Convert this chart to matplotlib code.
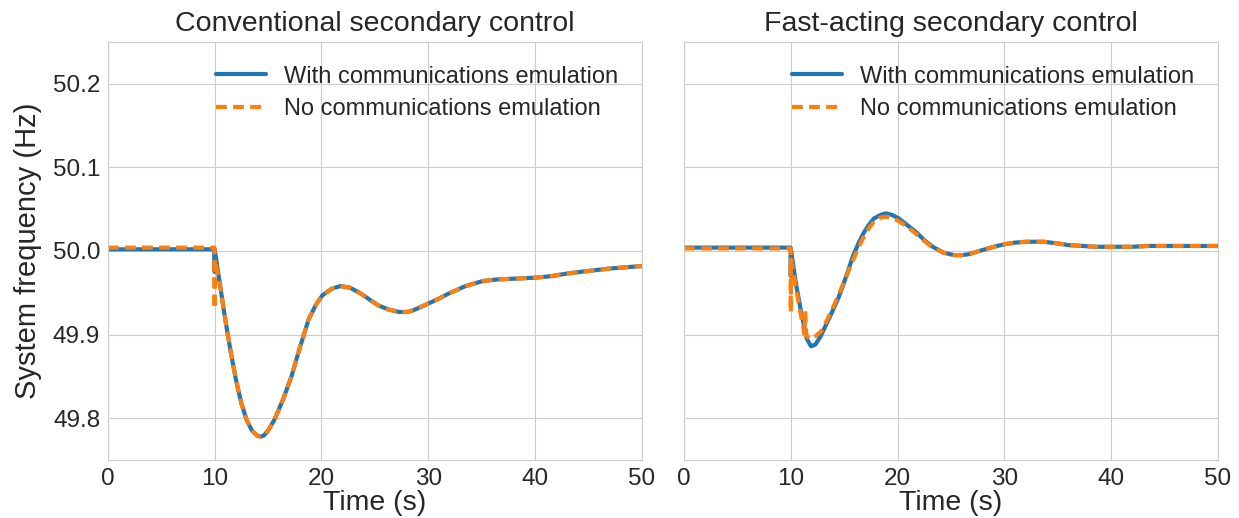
import matplotlib
matplotlib.use('Agg')
import matplotlib.pyplot as plt
import seaborn as sns

# data (time in s, frequency in Hz)
t_conv_with = [0, 9.99, 10.0, 10.03, 10.5, 11, 11.5, 12, 12.5, 13, 13.5, 14, 14.3, 14.6, 15,
               15.6, 16.4, 17.2, 18, 18.8, 19.5, 20.1, 21, 21.8, 22.7, 23.7, 24.5, 25.3, 26.3,
               27.3, 28, 28.6, 30, 31, 31.9, 33.5, 35.1, 36.5, 38.3, 40, 41.6, 43, 44.9, 47, 50]
f_conv_with = [50.002, 50.002, 49.975, 50.0, 49.96, 49.918, 49.88, 49.846, 49.818, 49.798, 49.785,
               49.779, 49.778, 49.779, 49.785, 49.798, 49.822, 49.850, 49.885, 49.918, 49.936,
               49.947, 49.955, 49.958, 49.956, 49.949, 49.942, 49.935, 49.930, 49.927, 49.927,
               49.929, 49.937, 49.943, 49.949, 49.958, 49.964, 49.966, 49.967, 49.968, 49.970,
               49.973, 49.976, 49.979, 49.982]

t_conv_no = [0, 9.99, 10.0, 10.03, 10.5, 11, 11.5, 12, 12.5, 13, 13.5, 14, 14.3, 14.6, 15,
             15.6, 16.4, 17.2, 18, 18.8, 19.5, 20.1, 21, 21.8, 22.7, 23.7, 24.5, 25.3, 26.3,
             27.3, 28, 28.6, 30, 31, 31.9, 33.5, 35.1, 36.5, 38.3, 40, 41.6, 43, 44.9, 47, 50]
f_conv_no = [50.004, 50.004, 49.931, 49.99, 49.96, 49.918, 49.88, 49.846, 49.818, 49.798, 49.785,
             49.779, 49.778, 49.779, 49.785, 49.798, 49.822, 49.850, 49.885, 49.918, 49.936,
             49.947, 49.955, 49.958, 49.956, 49.949, 49.942, 49.935, 49.930, 49.927, 49.927,
             49.929, 49.937, 49.943, 49.949, 49.958, 49.964, 49.966, 49.967, 49.968, 49.970,
             49.973, 49.976, 49.979, 49.982]

t_fast_with = [0, 9.99, 10.0, 10.03, 10.5, 11, 11.5, 11.9, 12.3, 12.8, 13.2, 13.8, 14.5, 15.2,
               15.8, 16.3, 16.8, 17.3, 17.8, 18.4, 18.9, 19.5, 20.1, 20.9, 21.7, 22.5, 23.3,
               24.3, 25.3, 26, 26.6, 27.4, 28.2, 29, 30, 31, 32.1, 33.7, 35, 36, 37.3, 38.6,
               40.3, 42, 43.5, 46, 50]
f_fast_with = [50.004, 50.004, 49.97, 50.0, 49.96, 49.925, 49.895, 49.886, 49.888, 49.898, 49.909,
               49.925, 49.945, 49.970, 49.993, 50.008, 50.021, 50.031, 50.039, 50.043, 50.045,
               50.043, 50.039, 50.031, 50.023, 50.013, 50.005, 49.998, 49.995, 49.995, 49.996,
               49.999, 50.002, 50.005, 50.008, 50.010, 50.011, 50.011, 50.009, 50.007, 50.006,
               50.005, 50.005, 50.005, 50.006, 50.006, 50.006]

t_fast_no = [0, 9.99, 10.0, 10.03, 10.5, 11, 11.3, 11.35, 11.45, 11.7, 12.2, 12.8, 13.2, 13.8,
             14.5, 15.2, 15.8, 16.3, 16.8, 17.3, 17.8, 18.4, 19.0, 19.6, 20.2, 20.9, 21.7,
             22.5, 23.3, 24.3, 25.3, 26, 26.6, 27.4, 28.2, 29, 30, 31, 32.1, 33.7, 35, 36,
             37.3, 38.6, 40.3, 42, 43.5, 46, 50]
f_fast_no = [50.003, 50.003, 49.927, 49.99, 49.955, 49.92, 49.90, 49.929, 49.90, 49.895, 49.897,
             49.903, 49.912, 49.928, 49.948, 49.970, 49.988, 50.003, 50.016, 50.027, 50.035,
             50.040, 50.041, 50.039, 50.035, 50.029, 50.021, 50.012, 50.004, 49.998, 49.995,
             49.995, 49.996, 49.999, 50.002, 50.005, 50.008, 50.010, 50.011, 50.011, 50.009,
             50.007, 50.006, 50.005, 50.005, 50.005, 50.006, 50.006, 50.006]

titles = ['Conventional secondary control', 'Fast-acting secondary control']
labels = ['With communications emulation', 'No communications emulation']
yticks = [49.8, 49.9, 50.0, 50.1, 50.2]
xticks = [0, 10, 20, 30, 40, 50]

sns.set_style('whitegrid')
plt.rcParams['font.family'] = ['Liberation Sans', 'DejaVu Sans']

fig, axes = plt.subplots(1, 2, figsize=(12.39, 5.18), dpi=100, sharey=True)
fig.subplots_adjust(left=0.087, right=0.983, top=0.919, bottom=0.112, wspace=0.079)

series = [(t_conv_with, f_conv_with, t_conv_no, f_conv_no),
          (t_fast_with, f_fast_with, t_fast_no, f_fast_no)]

for ax, title, (tw, fw, tn, fn) in zip(axes, titles, series):
    ax.plot(tw, fw, color='#1f77b4', lw=3, label=labels[0])
    ax.plot(tn, fn, color='#ff7f0e', lw=3, ls=(0, (2.6, 1.5)), label=labels[1])
    ax.set_title(title, fontsize=20.5, pad=8)
    ax.set_xlim(0, 50)
    ax.set_ylim(49.75, 50.25)
    ax.set_xticks(xticks)
    ax.set_yticks(yticks)
    ax.set_yticklabels(['%.1f' % v for v in yticks])
    ax.tick_params(labelsize=17.5, pad=2)
    ax.set_xlabel('Time (s)', fontsize=20.5, labelpad=0)
    ax.legend(loc='upper right', fontsize=17, frameon=False, handlelength=2.15,
              handletextpad=0.75, borderaxespad=0.6, labelspacing=0.45)

axes[0].set_ylabel('System frequency (Hz)', fontsize=21, labelpad=8)

fig.savefig('out.png', dpi=100)
